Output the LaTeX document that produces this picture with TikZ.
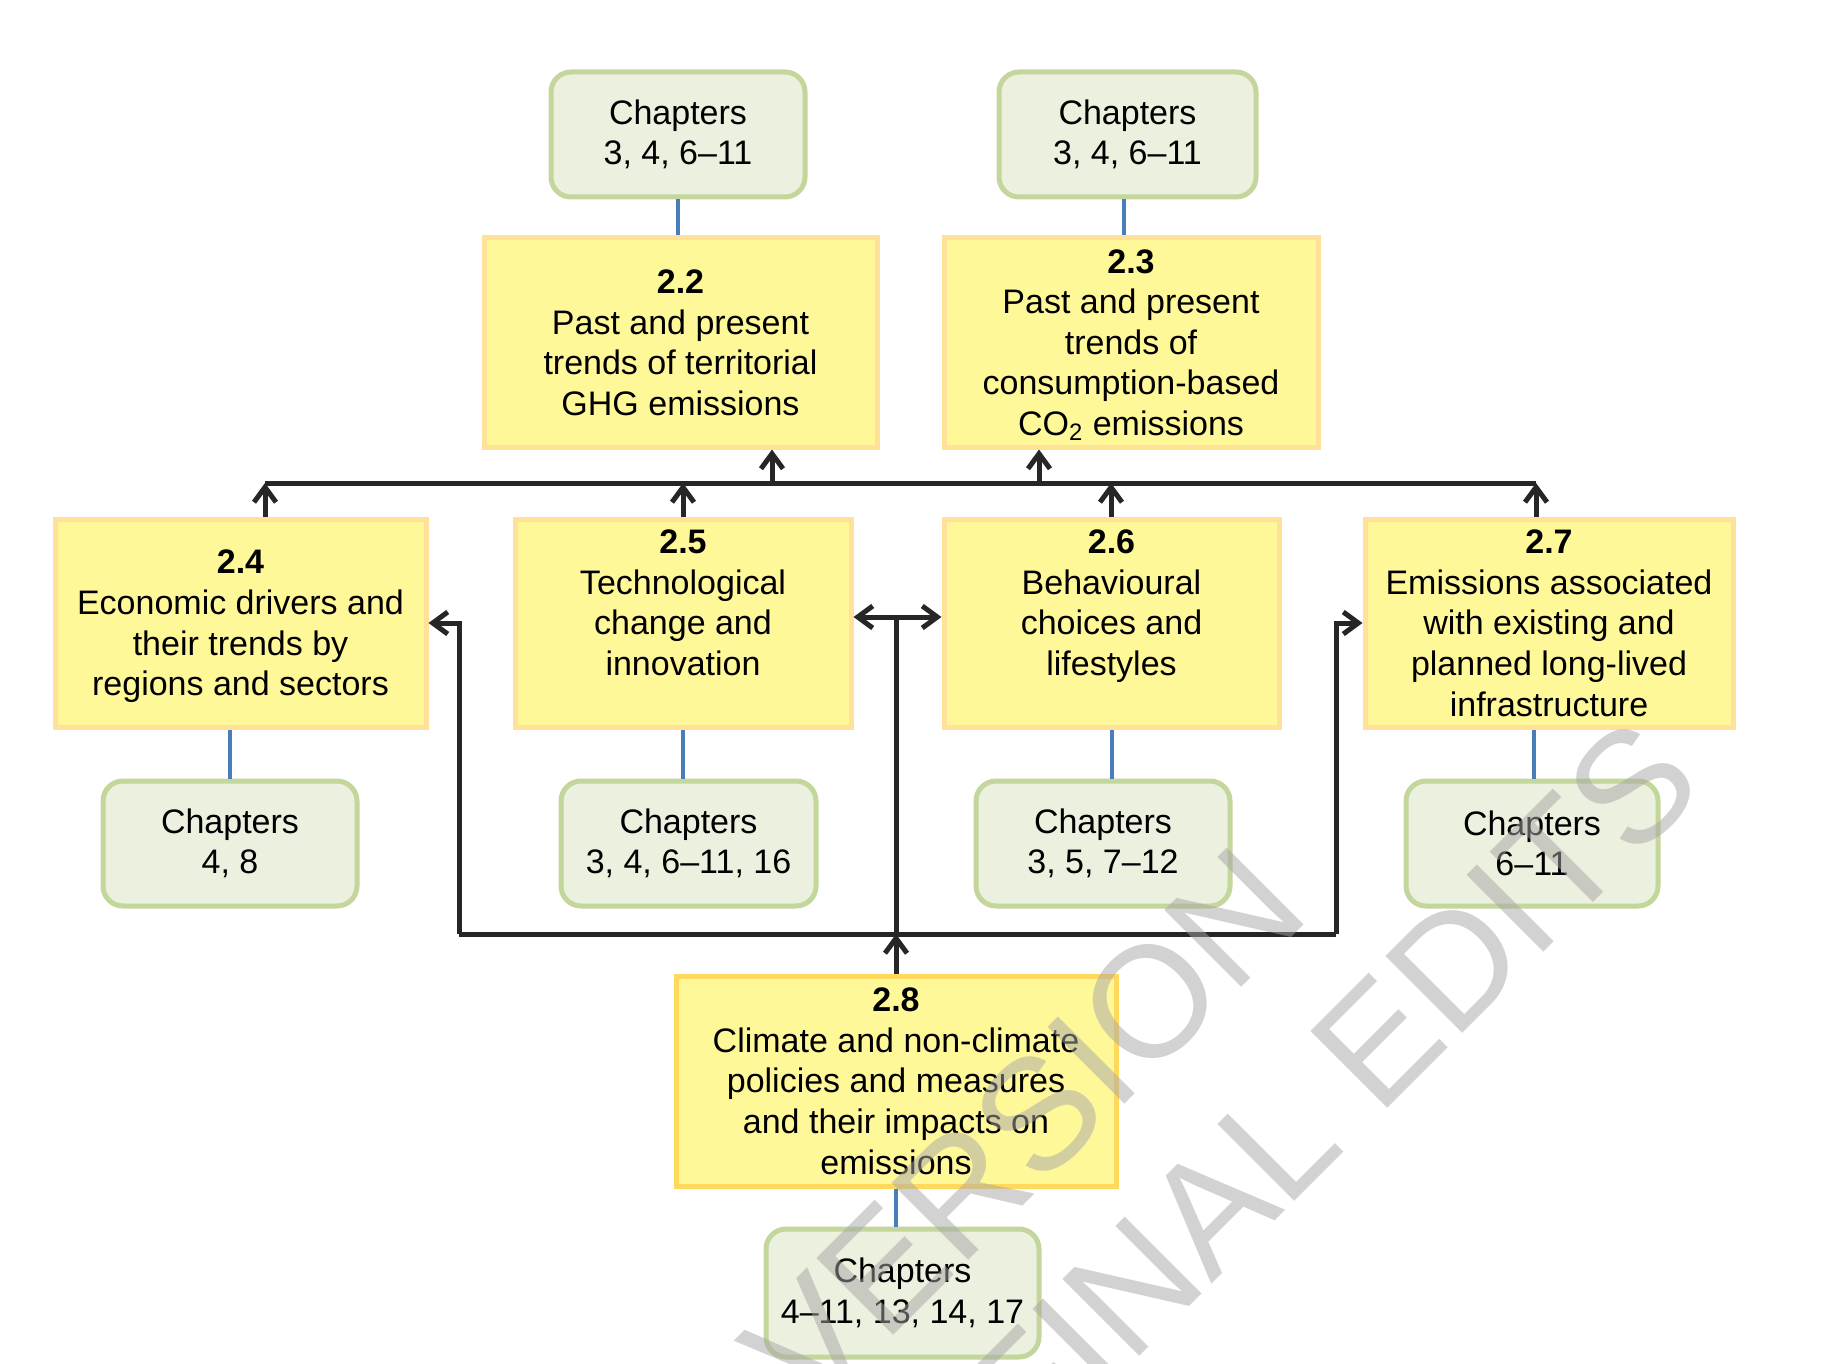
\documentclass[tikz,border=0pt]{standalone}
\usepackage{fontspec}
\setmainfont{Liberation Sans}
\usetikzlibrary{arrows.meta}

\definecolor{secfill}{HTML}{FFF899}
\definecolor{secline}{HTML}{FFE199}
\definecolor{secstrong}{HTML}{FFD95C}
\definecolor{chapfill}{HTML}{EBF0DF}
\definecolor{chapline}{HTML}{C3D69B}
\definecolor{linkblue}{HTML}{4A7EBB}
\definecolor{flowgray}{HTML}{262626}
\definecolor{markgray}{HTML}{A6A6A6}

\tikzset{
  size/.style 2 args={minimum width=#1*0.5pt, minimum height=#2*0.5pt},
  section/.style={draw=secline, fill=secfill, line width=2.5pt, inner sep=0pt,
    align=center, text depth=0pt, font=\fontsize{17}{20.3}\selectfont},
  chapbox/.style={draw=chapline, fill=chapfill, line width=2.5pt, rounded corners=10pt,
    inner sep=0pt, align=center, font=\fontsize{17}{20.3}\selectfont},
  bluelink/.style={draw=linkblue, line width=2pt},
  flow/.style={draw=flowgray, line width=2.5pt},
  tip/.style={-{Straight Barb[length=7.5pt,width=11pt]}},
  wmark/.style={text=markgray, text opacity=0.5, inner sep=0pt,
    font=\fontsize{79}{90}\selectfont, rotate=45}
}

\begin{document}
\begin{tikzpicture}[x=0.5pt, y=-0.5pt]
\useasboundingbox (0,0) rectangle (1830,1364);
\fill[white] (0,0) rectangle (1830,1364);

% chapter boxes
\node[chapbox, size={254}{125}] (c22) at (678,134.5) {Chapters\\3, 4, 6–11};
\node[chapbox, size={257}{125}] (c23) at (1127.5,134.5) {Chapters\\3, 4, 6–11};
\node[chapbox, size={254}{125}] (c24) at (230,843.5) {Chapters\\4, 8};
\node[chapbox, size={255}{125}] (c25) at (688.5,843.5) {Chapters\\3, 4, 6–11, 16};
\node[chapbox, size={254}{125}] (c26) at (1103,843.5) {Chapters\\3, 5, 7–12};
\node[chapbox, size={252}{125}] (c27) at (1532,843.5) {Chapters\\6–11};
\node[chapbox, size={273}{128}] (c28) at (902.5,1293) {Chapters\\4–11, 13, 14, 17};

% section boxes
\node[section, size={393}{209}] (b22) at (680.5,342.5)
  {\textbf{2.2}\\Past and present\\trends of territorial\\GHG emissions};
\node[section, size={374}{209}] (b23) at (1131,342.5)
  {\textbf{2.3}\\Past and present\\trends of\\consumption-based\\CO\textsubscript{2} emissions};
\node[section, size={371}{208}] (b24) at (240.5,623)
  {\textbf{2.4}\\Economic drivers and\\their trends by\\regions and sectors};
\node[section, size={336}{208}] (b25) at (683,623)
  {\textbf{2.5}\\Technological\\change and\\innovation\\~};
\node[section, size={335}{208}] (b26) at (1111.5,623)
  {\textbf{2.6}\\Behavioural\\choices and\\lifestyles\\~};
\node[section, size={368}{208}] (b27) at (1549,623)
  {\textbf{2.7}\\Emissions associated\\with existing and\\planned long-lived\\infrastructure};
\node[section, draw=secstrong, size={440}{210}] (b28) at (896,1081)
  {\textbf{2.8}\\Climate and non-climate\\policies and measures\\and their impacts on\\emissions};

% links between sections and chapters
\draw[bluelink] (c22.south) -- (c22.south |- b22.north);
\draw[bluelink] (c23.south) ++(-3.5,0) coordinate (l23) -- (l23 |- b23.north);
\draw[bluelink] (c24.north) -- (c24.north |- b24.south);
\draw[bluelink] (b25.south) -- (b25.south |- c25.north);
\draw[bluelink] (b26.south) -- (b26.south |- c26.north);
\draw[bluelink] (c27.north) ++(2,0) coordinate (l27) -- (l27 |- b27.south);
\draw[bluelink] (b28.south) -- (b28.south |- c28.north);

% upper collecting line
\coordinate (t24) at (265,483);
\coordinate (t25) at (683,483);
\coordinate (t22) at (772,483);
\coordinate (t23) at (1039,483);
\coordinate (t26) at (1111,483);
\coordinate (t27) at (1536,483);
\draw[flow] (t24) -- (t27);
\draw[flow, tip] (t24 |- b24.north) -- (t24);
\draw[flow, tip] (t25 |- b25.north) -- (t25);
\draw[flow, tip] (t26 |- b26.north) -- (t26);
\draw[flow, tip] (t27 |- b27.north) -- (t27);
\draw[flow, tip] (t22) -- (t22 |- b22.south);
\draw[flow, tip] (t23) -- (t23 |- b23.south);

% lower distributing line
\coordinate (j24) at (459,934);
\coordinate (j28) at (896,934);
\coordinate (j27) at (1336,934);
\coordinate (mid) at (896,617);
\draw[flow] (j24) -- (j27);
\draw[flow, tip] (b28.north) -- (j28);
\draw[flow, tip] (j24) |- (b24.east);
\draw[flow, tip] (j27) |- (b27.west);
\draw[flow] (j28) -- (mid);
\draw[flow, tip] (mid) -- (mid -| b25.east);
\draw[flow, tip] (mid) -- (mid -| b26.west);

% watermark
\begin{scope}
\clip (0,0) rectangle (1830,1364);
\node[wmark] (wmA) at (1023,1129) {VERSION};
\node[wmark] (wmB) at (1331,1088) {FINAL EDITS};
\end{scope}
\end{tikzpicture}
\end{document}
